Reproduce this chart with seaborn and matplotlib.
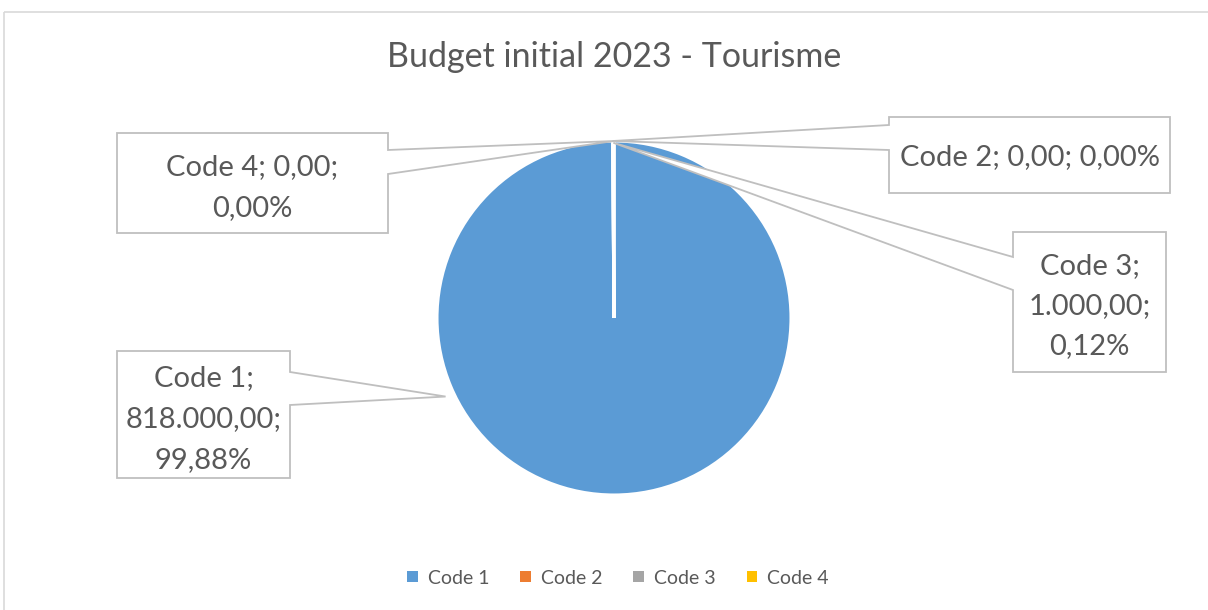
import numpy as np
import matplotlib
matplotlib.use("Agg")
import matplotlib.pyplot as plt
from matplotlib.patches import Polygon, Rectangle
import seaborn as sns

# Budget data
categories = ["Code 1", "Code 2", "Code 3", "Code 4"]
values = [818000.00, 0.00, 1000.00, 0.00]
colors = ["#5B9BD5", "#ED7D31", "#A5A5A5", "#FFC000"]
title = "Budget initial 2023 - Tourisme"

sns.set_theme(style="white")
plt.rcParams["font.family"] = ["Lato", "DejaVu Sans"]

W, H, DPI = 1208, 610, 100
fig = plt.figure(figsize=(W / DPI, H / DPI), dpi=DPI)
fig.patch.set_facecolor("white")

# Overlay axes in pixel coordinates (y downwards)
ov = fig.add_axes([0, 0, 1, 1])
ov.set_xlim(0, W)
ov.set_ylim(H, 0)
ov.axis("off")

# Chart area frame
ov.add_patch(Rectangle((4, 12), 1400, 800, fill=False, edgecolor="#D9D9D9", lw=1.2))

# Pie axes: centre (614, 318), radius 177 px
cx, cy, r = 614, 318, 177
ax = fig.add_axes([(cx - r) / W, (H - cy - r) / H, 2 * r / W, 2 * r / H], zorder=2)
ax.set_xlim(-1, 1)
ax.set_ylim(-1, 1)
ax.set_aspect("equal")
ax.axis("off")
wedges, _ = ax.pie(values, colors=colors, startangle=90, counterclock=False,
                   radius=1, wedgeprops=dict(edgecolor="white", linewidth=2.2))
ax.set_xlim(-1, 1)
ax.set_ylim(-1, 1)

total = sum(values)


def fmt_num(v):
    s = f"{v:,.2f}"
    return s.replace(",", "X").replace(".", ",").replace("X", ".")


def fmt_pct(v):
    return f"{v / total * 100:.2f}".replace(".", ",") + "%"


def rim_point(angle_deg, rad=1.0):
    """Point on the pie rim in overlay pixel coordinates."""
    a = np.deg2rad(angle_deg)
    disp = ax.transData.transform((rad * np.cos(a), rad * np.sin(a)))
    return ov.transData.inverted().transform(disp)


def wedge_mid(w):
    return (w.theta1 + w.theta2) / 2


# Callout layouts: box (x0, y0, x1, y1), pointer side, pointer y range, anchor angle, text lines
callouts = [
    dict(idx=3, box=(117, 133, 388, 233), side="right", py=(150, 174), ang=None, rad=1.0,
         lines=["Code 4; " + fmt_num(values[3]) + ";", fmt_pct(values[3])], ly=[167, 208]),
    dict(idx=1, box=(889, 117, 1170, 193), side="left", py=(125, 150), ang=None, rad=1.0,
         lines=["Code 2; " + fmt_num(values[1]) + "; " + fmt_pct(values[1])], ly=[157]),
    dict(idx=2, box=(1013, 232, 1166, 372), side="left", py=(257, 290), ang=None, rad=0.99,
         lines=["Code 3;", fmt_num(values[2]) + ";", fmt_pct(values[2])], ly=[266, 306, 346]),
    dict(idx=0, box=(117, 351, 290, 478), side="right", py=(372, 405), ang=205, rad=1.05,
         lines=["Code 1;", fmt_num(values[0]) + ";", fmt_pct(values[0])], ly=[378, 419, 460]),
]

for c in callouts:
    x0, y0, x1, y1 = c["box"]
    ang = c["ang"] if c["ang"] is not None else wedge_mid(wedges[c["idx"]])
    tip = rim_point(ang, c["rad"])
    pa, pb = c["py"]
    if c["side"] == "right":
        pts = [(x0, y0), (x1, y0), (x1, pa), tuple(tip), (x1, pb), (x1, y1), (x0, y1)]
    else:
        pts = [(x0, y0), (x1, y0), (x1, y1), (x0, y1), (x0, pb), tuple(tip), (x0, pa)]
    ov.add_patch(Polygon(pts, closed=True, facecolor="white", edgecolor="#BFBFBF",
                         lw=1.3, zorder=3, joinstyle="miter"))
    xc = (x0 + x1) / 2
    for line, yy in zip(c["lines"], c["ly"]):
        ov.text(xc, yy, line, ha="center", va="center", fontsize=21,
                color="#595959", zorder=4)

# Keep the overlay above the pie so callout pointers sit on top
ov.set_zorder(3)
ov.patch.set_alpha(0)

# Title
ov.text(614, 57, title, ha="center", va="center", fontsize=24.5, color="#595959")

# Legend
handles = [Rectangle((0, 0), 1, 1, facecolor=col, edgecolor="none") for col in colors]
leg = fig.legend(handles, categories, loc="center", bbox_to_anchor=(618 / W, 1 - 578 / H),
                 ncol=4, frameon=False, fontsize=14, handlelength=0.55, handleheight=0.55,
                 handletextpad=0.5, columnspacing=1.6)
for t in leg.get_texts():
    t.set_color("#595959")

fig.savefig("out.png", dpi=DPI, facecolor="white")
